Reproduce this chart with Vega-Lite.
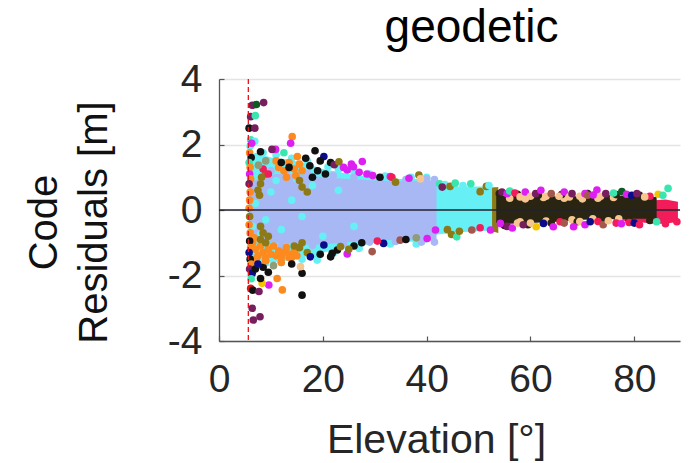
{
 "$schema": "https://vega.github.io/schema/vega-lite/v6.json",
 "width": 461,
 "height": 262,
 "autosize": "none",
 "padding": {"left": 219, "top": 79, "right": 9, "bottom": 122},
 "background": "white",
 "config": {
  "view": {"stroke": null},
  "font": "Liberation Sans",
  "axisX": {"labelFontSize": 39, "labelColor": "#262626", "labelFont": "Liberation Sans", "domainColor": "#555555", "domainWidth": 1.3, "tickColor": "#555555", "tickSize": -5, "tickWidth": 1.2, "labelPadding": 24, "labelFlush": false, "grid": false, "titleFontSize": 41, "titleFontWeight": "normal", "titleColor": "#262626", "titleFont": "Liberation Sans", "titleX": 217, "titleY": 111, "titleBaseline": "alphabetic", "titleAlign": "center", "titleAnchor": null},
  "axisY": {"labelFontSize": 39, "labelColor": "#262626", "labelFont": "Liberation Sans", "domainColor": "#555555", "domainWidth": 1.3, "tickColor": "#555555", "tickSize": -5, "tickWidth": 1.2, "labelPadding": 22, "grid": true, "gridColor": "#e4e4e4", "gridWidth": 1.3, "titleFontSize": 40, "titleFontWeight": "normal", "titleColor": "#111111", "titleFont": "Liberation Sans", "titleX": -195, "titleY": 143, "titleAngle": -90, "titleBaseline": "top", "titleAlign": "center", "titleLineHeight": 50, "titleAnchor": null}
 },
 "title": {"text": "geodetic", "fontSize": 46, "font": "Liberation Sans", "fontWeight": "normal", "color": "#000000", "anchor": "middle", "dx": 22, "offset": 8},
 "datasets": {
  "core": [
   {"g": "crimson", "e": 76, "r": -0.3, "r2": 0.15},
   {"g": "crimson", "e": 80, "r": -0.36, "r2": 0.25},
   {"g": "crimson", "e": 84, "r": -0.42, "r2": 0.3},
   {"g": "crimson", "e": 86, "r": -0.42, "r2": 0.32},
   {"g": "crimson", "e": 88.4, "r": -0.36, "r2": 0.25},
   {"g": "cyan", "e": 5.7, "r": -1.5, "r2": 1.6},
   {"g": "cyan", "e": 7, "r": -1.6, "r2": 1.75},
   {"g": "cyan", "e": 10, "r": -1.6, "r2": 1.6},
   {"g": "cyan", "e": 13, "r": -1.55, "r2": 1.55},
   {"g": "cyan", "e": 16, "r": -1.45, "r2": 1.45},
   {"g": "cyan", "e": 20, "r": -1.3, "r2": 1.25},
   {"g": "cyan", "e": 25, "r": -1.15, "r2": 1.1},
   {"g": "cyan", "e": 30, "r": -1.0, "r2": 1.0},
   {"g": "cyan", "e": 35, "r": -0.95, "r2": 0.95},
   {"g": "cyan", "e": 40, "r": -1.0, "r2": 0.95},
   {"g": "cyan", "e": 42, "r": -0.75, "r2": 0.8},
   {"g": "cyan", "e": 46, "r": -0.68, "r2": 0.72},
   {"g": "cyan", "e": 50, "r": -0.65, "r2": 0.72},
   {"g": "cyan", "e": 53.4, "r": -0.62, "r2": 0.7},
   {"g": "olive", "e": 52.6, "r": -0.65, "r2": 0.68},
   {"g": "olive", "e": 53.8, "r": -0.7, "r2": 0.7},
   {"g": "blue", "e": 5.8, "r": -0.8, "r2": 0.8},
   {"g": "blue", "e": 8, "r": -0.95, "r2": 1.0},
   {"g": "blue", "e": 11, "r": -1.0, "r2": 1.1},
   {"g": "blue", "e": 15, "r": -1.05, "r2": 1.1},
   {"g": "blue", "e": 20, "r": -1.05, "r2": 1.0},
   {"g": "blue", "e": 25, "r": -0.98, "r2": 0.95},
   {"g": "blue", "e": 30, "r": -0.93, "r2": 0.9},
   {"g": "blue", "e": 35, "r": -0.9, "r2": 0.88},
   {"g": "blue", "e": 41.9, "r": -0.93, "r2": 0.9},
   {"g": "black", "e": 53.4, "r": -0.4, "r2": 0.42},
   {"g": "black", "e": 56, "r": -0.42, "r2": 0.45},
   {"g": "black", "e": 60, "r": -0.4, "r2": 0.42},
   {"g": "black", "e": 65, "r": -0.36, "r2": 0.42},
   {"g": "black", "e": 70, "r": -0.3, "r2": 0.42},
   {"g": "black", "e": 75, "r": -0.28, "r2": 0.45},
   {"g": "black", "e": 80, "r": -0.27, "r2": 0.42},
   {"g": "black", "e": 84.3, "r": -0.27, "r2": 0.4}
  ],
  "pts": [
   {"e": 21, "r": 1.32, "s": "cyan"}, {"e": 23, "r": 1.24, "s": "cyan"}, {"e": 26, "r": 1.17, "s": "cyan"}, {"e": 29, "r": 1.1, "s": "cyan"}, {"e": 32, "r": 1.04, "s": "cyan"}, {"e": 37, "r": 1.0, "s": "cyan"}, {"e": 40, "r": 1.0, "s": "cyan"},
   {"e": 22, "r": -1.32, "s": "cyan"}, {"e": 27, "r": -1.17, "s": "cyan"}, {"e": 33, "r": -1.04, "s": "cyan"}, {"e": 38, "r": -1.04, "s": "cyan"},
   {"e": 8.5, "r": 1.75, "s": "cyan"}, {"e": 11, "r": 1.68, "s": "cyan"}, {"e": 14, "r": 1.58, "s": "cyan"}, {"e": 17, "r": 1.5, "s": "cyan"},
   {"e": 9, "r": -1.62, "s": "cyan"}, {"e": 12, "r": -1.6, "s": "cyan"}, {"e": 16, "r": -1.5, "s": "cyan"}, {"e": 19, "r": -1.4, "s": "cyan"},
   {"e": 22, "r": 1.05, "s": "blue"}, {"e": 26, "r": 1.0, "s": "blue"}, {"e": 31, "r": 0.95, "s": "blue"}, {"e": 36, "r": 0.93, "s": "blue"}, {"e": 40, "r": 0.95, "s": "blue"}, {"e": 41.5, "r": 0.93, "s": "blue"},
   {"e": 24, "r": -1.03, "s": "blue"}, {"e": 29, "r": -0.98, "s": "blue"}, {"e": 34, "r": -0.96, "s": "blue"}, {"e": 39, "r": -0.98, "s": "blue"}, {"e": 41.5, "r": -0.98, "s": "blue"},
   {"e": 10, "r": 1.2, "s": "blue"}, {"e": 13, "r": 1.2, "s": "blue"}, {"e": 17, "r": 1.12, "s": "blue"}, {"e": 12, "r": -1.1, "s": "blue"}, {"e": 18, "r": -1.08, "s": "blue"},
   {"e": 7, "r": 0.2, "s": "cyan"}, {"e": 9, "r": -0.3, "s": "cyan"}, {"e": 10, "r": 0.55, "s": "cyan"}, {"e": 12, "r": -0.6, "s": "cyan"}, {"e": 14, "r": 0.3, "s": "cyan"}, {"e": 8, "r": -0.75, "s": "cyan"}, {"e": 16, "r": -0.2, "s": "cyan"}, {"e": 11, "r": 0.9, "s": "cyan"}, {"e": 18, "r": 0.75, "s": "cyan"}, {"e": 20, "r": -0.8, "s": "cyan"}, {"e": 23, "r": 0.6, "s": "cyan"}, {"e": 26, "r": -0.5, "s": "cyan"}, {"e": 6.5, "r": -0.5, "s": "cyan"}, {"e": 15, "r": 0.95, "s": "cyan"},
   {"e": 6.5, "r": -1.0, "s": "orange"}, {"e": 7.0, "r": -1.2, "s": "orange"}, {"e": 7.5, "r": -1.4, "s": "orange"}, {"e": 8.0, "r": -1.1, "s": "orange"}, {"e": 8.5, "r": -1.3, "s": "orange"}, {"e": 9.0, "r": -1.45, "s": "orange"}, {"e": 9.5, "r": -1.2, "s": "orange"}, {"e": 10.0, "r": -1.35, "s": "orange"}, {"e": 10.5, "r": -1.1, "s": "orange"}, {"e": 11.0, "r": -1.4, "s": "orange"}, {"e": 11.5, "r": -1.25, "s": "orange"}, {"e": 12.0, "r": -1.45, "s": "orange"}, {"e": 12.5, "r": -1.3, "s": "orange"}, {"e": 13.0, "r": -1.15, "s": "orange"}, {"e": 13.5, "r": -1.35, "s": "orange"}, {"e": 14.0, "r": -1.45, "s": "orange"}, {"e": 14.5, "r": -1.25, "s": "orange"}, {"e": 15.0, "r": -1.4, "s": "orange"}, {"e": 6.8, "r": -0.85, "s": "orange"}, {"e": 7.2, "r": -1.5, "s": "orange"},
   {"e": 11.5, "r": 1.3, "s": "orange"}, {"e": 12.5, "r": 1.2, "s": "orange"}, {"e": 13.5, "r": 1.45, "s": "orange"}, {"e": 14.5, "r": 1.25, "s": "orange"}, {"e": 15.5, "r": 1.4, "s": "orange"}, {"e": 16.0, "r": 1.2, "s": "orange"}, {"e": 13.0, "r": 1.0, "s": "orange"}, {"e": 14.8, "r": 1.05, "s": "orange"}, {"e": 11, "r": 1.5, "s": "orange"},
   {"e": 7.5, "r": 0.6, "s": "olive"}, {"e": 8, "r": 0.8, "s": "olive"}, {"e": 8.2, "r": 1.0, "s": "olive"}, {"e": 7.8, "r": 0.45, "s": "olive"}, {"e": 9.0, "r": 1.1, "s": "olive"}, {"e": 16, "r": 0.7, "s": "olive"}, {"e": 17, "r": 0.55, "s": "olive"}, {"e": 15.5, "r": 0.9, "s": "olive"},
   {"e": 8.0, "r": -0.5, "s": "olive"}, {"e": 8.5, "r": -0.7, "s": "olive"}, {"e": 8.0, "r": -0.9, "s": "olive"}, {"e": 9.0, "r": -1.0, "s": "olive"}, {"e": 9.5, "r": -0.8, "s": "olive"}, {"e": 14.5, "r": -1.1, "s": "olive"}, {"e": 15.5, "r": -1.15, "s": "olive"}, {"e": 16.0, "r": -1.0, "s": "olive"}, {"e": 17, "r": -1.3, "s": "olive"},
   {"e": 56, "r": 0.36, "s": "peach"}, {"e": 59, "r": 0.34, "s": "peach"}, {"e": 62.5, "r": 0.38, "s": "peach"}, {"e": 66.5, "r": 0.36, "s": "peach"}, {"e": 70, "r": 0.34, "s": "peach"}, {"e": 73, "r": 0.36, "s": "peach"}, {"e": 76, "r": 0.38, "s": "peach"}, {"e": 58, "r": -0.36, "s": "peach"}, {"e": 63, "r": -0.34, "s": "peach"}, {"e": 68, "r": -0.3, "s": "peach"}, {"e": 72, "r": -0.27, "s": "peach"}, {"e": 77, "r": -0.27, "s": "peach"},
   {"e": 54, "r": 0.5, "s": "dark"}, {"e": 57.5, "r": 0.48, "s": "dark"}, {"e": 61.5, "r": 0.45, "s": "dark"}, {"e": 66, "r": 0.47, "s": "dark"}, {"e": 71, "r": 0.5, "s": "dark"}, {"e": 76.5, "r": 0.47, "s": "dark"}, {"e": 81, "r": 0.45, "s": "dark"},
   {"e": 55, "r": -0.47, "s": "dark"}, {"e": 59.5, "r": -0.45, "s": "dark"}, {"e": 64, "r": -0.4, "s": "dark"}, {"e": 69, "r": -0.36, "s": "dark"}, {"e": 74, "r": -0.33, "s": "dark"}, {"e": 79, "r": -0.32, "s": "dark"}, {"e": 83, "r": -0.32, "s": "dark"},
   {"e": 5.8, "r": 2.5, "s": "black"}, {"e": 6.1, "r": 2.14, "s": "teal"}, {"e": 6.0, "r": 1.95, "s": "cyan"}, {"e": 5.9, "r": 1.75, "s": "orange"}, {"e": 6.2, "r": 1.6, "s": "black"}, {"e": 5.8, "r": 1.45, "s": "teal"}, {"e": 6.0, "r": 1.3, "s": "orange"}, {"e": 5.9, "r": 1.1, "s": "magenta"}, {"e": 6.1, "r": 0.95, "s": "orange"}, {"e": 5.8, "r": 0.8, "s": "purple"}, {"e": 6.0, "r": 0.55, "s": "orange"}, {"e": 5.9, "r": 0.3, "s": "orange"}, {"e": 5.8, "r": 0.05, "s": "orange"}, {"e": 5.9, "r": -0.2, "s": "olive"}, {"e": 5.8, "r": -0.45, "s": "orange"}, {"e": 6.0, "r": -0.7, "s": "orange"}, {"e": 5.9, "r": -0.95, "s": "black"}, {"e": 6.1, "r": -1.15, "s": "orange"}, {"e": 5.8, "r": -1.3, "s": "navy"}, {"e": 6.0, "r": -1.5, "s": "black"}, {"e": 6.2, "r": -1.65, "s": "orange"}, {"e": 5.9, "r": -1.8, "s": "purple"}, {"e": 6.4, "r": -1.93, "s": "navy"}, {"e": 6.2, "r": -2.1, "s": "teal"}, {"e": 6.1, "r": -2.39, "s": "red"}, {"e": 6.5, "r": -2.45, "s": "black"},
   {"e": 6.4, "r": 3.2, "s": "purple"}, {"e": 7.2, "r": 3.22, "s": "green"}, {"e": 8.6, "r": 3.28, "s": "purple"}, {"e": 6.1, "r": 2.85, "s": "purple"}, {"e": 7.0, "r": 2.88, "s": "teal"}, {"e": 6.9, "r": 2.5, "s": "purple"}, {"e": 6.9, "r": 2.1, "s": "cyan"}, {"e": 6.3, "r": 2.04, "s": "magenta"},
   {"e": 14.1, "r": 2.24, "s": "orange"}, {"e": 13.8, "r": 2.04, "s": "magenta"}, {"e": 18.5, "r": 1.81, "s": "black"}, {"e": 10.9, "r": 1.85, "s": "magenta"}, {"e": 10.2, "r": 1.85, "s": "purple"}, {"e": 8.0, "r": 1.78, "s": "black"}, {"e": 12.5, "r": 1.75, "s": "teal"}, {"e": 16.7, "r": 1.58, "s": "black"}, {"e": 15.1, "r": 1.63, "s": "orange"}, {"e": 20.2, "r": 1.63, "s": "navy"}, {"e": 19.5, "r": 1.5, "s": "black"}, {"e": 21.5, "r": 1.45, "s": "black"}, {"e": 22.2, "r": 1.38, "s": "purple"}, {"e": 23.1, "r": 1.47, "s": "olive"},
   {"e": 24.0, "r": 1.3, "s": "magenta"}, {"e": 25.5, "r": 1.4, "s": "magenta"}, {"e": 27.0, "r": 1.15, "s": "magenta"}, {"e": 28.5, "r": 1.1, "s": "magenta"}, {"e": 29.6, "r": 1.05, "s": "magenta"}, {"e": 24.7, "r": 1.22, "s": "magenta"}, {"e": 25.9, "r": 1.32, "s": "magenta"}, {"e": 27.6, "r": 1.48, "s": "magenta"},
   {"e": 33.0, "r": 1.02, "s": "magenta"}, {"e": 33.3, "r": 1.0, "s": "crimson"}, {"e": 36.6, "r": 0.97, "s": "magenta"}, {"e": 38.5, "r": 1.07, "s": "olive"}, {"e": 38.8, "r": 0.95, "s": "peach"}, {"e": 34.0, "r": 0.85, "s": "olive"}, {"e": 31.0, "r": 1.0, "s": "black"},
   {"e": 12.0, "r": 1.45, "s": "black"}, {"e": 13.5, "r": 1.3, "s": "black"}, {"e": 17.5, "r": 1.35, "s": "black"}, {"e": 19.0, "r": 1.2, "s": "black"}, {"e": 20.5, "r": 1.1, "s": "black"}, {"e": 18.0, "r": 1.0, "s": "black"}, {"e": 8.5, "r": 1.25, "s": "crimson"}, {"e": 9.5, "r": 1.1, "s": "crimson"}, {"e": 9.0, "r": 1.5, "s": "sage"}, {"e": 7.6, "r": 1.37, "s": "sage"},
   {"e": 20.2, "r": -1.07, "s": "navy"}, {"e": 22.8, "r": -1.22, "s": "black"}, {"e": 21.8, "r": -1.32, "s": "black"}, {"e": 17.6, "r": -1.43, "s": "navy"}, {"e": 18.9, "r": -1.53, "s": "cyan"}, {"e": 16.0, "r": -1.93, "s": "black"}, {"e": 16.0, "r": -2.6, "s": "black"}, {"e": 12.2, "r": -2.44, "s": "orange"}, {"e": 11.2, "r": -2.09, "s": "orange"}, {"e": 15.7, "r": -1.73, "s": "peach"}, {"e": 9.6, "r": -2.29, "s": "magenta"}, {"e": 7.7, "r": -2.49, "s": "purple"}, {"e": 8.3, "r": -2.24, "s": "gold"}, {"e": 8.0, "r": -2.09, "s": "black"}, {"e": 6.4, "r": -3.0, "s": "purple"}, {"e": 7.9, "r": -3.26, "s": "purple"}, {"e": 6.6, "r": -3.36, "s": "purple"},
   {"e": 7.0, "r": -1.8, "s": "black"}, {"e": 8.5, "r": -1.75, "s": "black"}, {"e": 9.5, "r": -1.9, "s": "black"}, {"e": 10.5, "r": -1.7, "s": "sage"}, {"e": 7.5, "r": -1.65, "s": "navy"}, {"e": 9.0, "r": -1.55, "s": "orange"}, {"e": 12.0, "r": -1.6, "s": "orange"}, {"e": 13.5, "r": -1.45, "s": "orange"}, {"e": 14.0, "r": -1.65, "s": "black"}, {"e": 19.5, "r": -1.35, "s": "black"}, {"e": 21.5, "r": -1.43, "s": "black"},
   {"e": 24.7, "r": -1.34, "s": "magenta"}, {"e": 23.4, "r": -1.12, "s": "olive"}, {"e": 29.5, "r": -1.27, "s": "mauve"}, {"e": 31.7, "r": -1.02, "s": "navy"}, {"e": 34.9, "r": -0.92, "s": "mauve"}, {"e": 40.1, "r": -0.87, "s": "magenta"}, {"e": 41.7, "r": -0.61, "s": "magenta"}, {"e": 26, "r": -1.1, "s": "black"}, {"e": 27.5, "r": -1.0, "s": "black"}, {"e": 25, "r": -1.2, "s": "olive"}, {"e": 30.5, "r": -0.95, "s": "crimson"}, {"e": 36, "r": -0.9, "s": "black"}, {"e": 38, "r": -0.85, "s": "sage"},
   {"e": 42.5, "r": 0.8, "s": "teal"}, {"e": 43.5, "r": 0.78, "s": "cyan"}, {"e": 44.5, "r": 0.72, "s": "olive"}, {"e": 45.5, "r": 0.82, "s": "teal"}, {"e": 47, "r": 0.75, "s": "cyan"}, {"e": 48.5, "r": 0.8, "s": "teal"}, {"e": 50.3, "r": 0.56, "s": "olive"}, {"e": 51.5, "r": 0.72, "s": "olive"}, {"e": 52, "r": 0.75, "s": "cyan"}, {"e": 43, "r": 0.7, "s": "purple"},
   {"e": 44, "r": -0.6, "s": "olive"}, {"e": 44.8, "r": -0.75, "s": "olive"}, {"e": 45.8, "r": -0.82, "s": "teal"}, {"e": 46.3, "r": -0.65, "s": "olive"}, {"e": 48.7, "r": -0.61, "s": "mauve"}, {"e": 50.3, "r": -0.54, "s": "crimson"}, {"e": 52.3, "r": -0.61, "s": "magenta"},
   {"e": 54.5, "r": 0.55, "s": "purple"}, {"e": 55.5, "r": 0.5, "s": "magenta"}, {"e": 56, "r": 0.58, "s": "teal"}, {"e": 57, "r": 0.52, "s": "crimson"}, {"e": 58, "r": 0.4, "s": "peach"}, {"e": 59, "r": 0.55, "s": "magenta"}, {"e": 60, "r": 0.42, "s": "peach"}, {"e": 61, "r": 0.5, "s": "purple"}, {"e": 62, "r": 0.6, "s": "magenta"}, {"e": 63, "r": 0.42, "s": "peach"}, {"e": 64, "r": 0.5, "s": "mauve"}, {"e": 65.5, "r": 0.42, "s": "peach"}, {"e": 66.5, "r": 0.55, "s": "magenta"}, {"e": 67.5, "r": 0.4, "s": "peach"}, {"e": 68, "r": 0.5, "s": "purple"}, {"e": 69.5, "r": 0.42, "s": "peach"}, {"e": 70.5, "r": 0.5, "s": "magenta"}, {"e": 71, "r": 0.45, "s": "mauve"}, {"e": 72.1, "r": 0.46, "s": "magenta"}, {"e": 72.8, "r": 0.61, "s": "magenta"}, {"e": 73.5, "r": 0.42, "s": "peach"}, {"e": 74.5, "r": 0.5, "s": "purple"}, {"e": 77.6, "r": 0.56, "s": "green"}, {"e": 76, "r": 0.52, "s": "teal"}, {"e": 78.5, "r": 0.48, "s": "magenta"}, {"e": 79.5, "r": 0.45, "s": "navy"}, {"e": 80.5, "r": 0.5, "s": "purple"}, {"e": 84.6, "r": 0.48, "s": "gold"}, {"e": 86.5, "r": 0.66, "s": "teal"}, {"e": 85.5, "r": 0.45, "s": "teal"}, {"e": 83, "r": 0.42, "s": "crimson"}, {"e": 82, "r": 0.4, "s": "peach"},
   {"e": 54.2, "r": -0.41, "s": "magenta"}, {"e": 55.5, "r": -0.5, "s": "purple"}, {"e": 56.5, "r": -0.55, "s": "magenta"}, {"e": 57.5, "r": -0.4, "s": "peach"}, {"e": 58.6, "r": -0.45, "s": "purple"}, {"e": 61.1, "r": -0.51, "s": "gold"}, {"e": 62.5, "r": -0.41, "s": "navy"}, {"e": 64.4, "r": -0.51, "s": "magenta"}, {"e": 60, "r": -0.4, "s": "peach"}, {"e": 65.7, "r": -0.36, "s": "crimson"}, {"e": 66.5, "r": -0.4, "s": "mauve"}, {"e": 68.3, "r": -0.51, "s": "magenta"}, {"e": 69.5, "r": -0.35, "s": "peach"}, {"e": 70.5, "r": -0.45, "s": "magenta"}, {"e": 71.5, "r": -0.36, "s": "navy"}, {"e": 73, "r": -0.35, "s": "crimson"}, {"e": 74, "r": -0.45, "s": "mauve"}, {"e": 75, "r": -0.33, "s": "peach"}, {"e": 76.5, "r": -0.4, "s": "crimson"}, {"e": 77.5, "r": -0.42, "s": "magenta"}, {"e": 79, "r": -0.38, "s": "crimson"}, {"e": 80, "r": -0.4, "s": "navy"}, {"e": 81, "r": -0.45, "s": "crimson"}, {"e": 84.3, "r": -0.36, "s": "teal"}, {"e": 86, "r": -0.42, "s": "crimson"}, {"e": 88.2, "r": -0.36, "s": "crimson"}
  ],
  "cut": [{"e": 5.65}],
  "zero": [{"r": 0}]
 },
 "layer": [
  {"data": {"name": "core"}, "transform": [{"filter": "datum.g === 'crimson'"}],
   "mark": {"type": "area", "color": "#f31c5a", "opacity": 1},
   "encoding": {
    "x": {"field": "e", "type": "quantitative", "scale": {"domain": [0, 88.8], "nice": false, "zero": false}, "axis": {"values": [0, 20, 40, 60, 80], "title": "Elevation [°]"}},
    "y": {"field": "r", "type": "quantitative", "stack": null, "scale": {"domain": [-4, 4], "nice": false}, "axis": {"values": [-4, -2, 0, 2, 4], "labelExpr": "datum.value < 0 ? '-' + abs(datum.value) : '' + datum.value", "title": ["Code", "Residuals [m]"]}},
    "y2": {"field": "r2"}}},
  {"data": {"name": "core"}, "transform": [{"filter": "datum.g === 'cyan'"}],
   "mark": {"type": "area", "color": "#66eff5", "opacity": 1},
   "encoding": {"x": {"field": "e", "type": "quantitative"}, "y": {"field": "r", "type": "quantitative", "stack": null}, "y2": {"field": "r2"}}},
  {"data": {"name": "core"}, "transform": [{"filter": "datum.g === 'olive'"}],
   "mark": {"type": "area", "color": "#8d7a17", "opacity": 1},
   "encoding": {"x": {"field": "e", "type": "quantitative"}, "y": {"field": "r", "type": "quantitative", "stack": null}, "y2": {"field": "r2"}}},
  {"data": {"name": "core"}, "transform": [{"filter": "datum.g === 'blue'"}],
   "mark": {"type": "area", "color": "#a7b8f5", "opacity": 1},
   "encoding": {"x": {"field": "e", "type": "quantitative"}, "y": {"field": "r", "type": "quantitative", "stack": null}, "y2": {"field": "r2"}}},
  {"data": {"name": "core"}, "transform": [{"filter": "datum.g === 'black'"}],
   "mark": {"type": "area", "color": "#2a2512", "opacity": 1},
   "encoding": {"x": {"field": "e", "type": "quantitative"}, "y": {"field": "r", "type": "quantitative", "stack": null}, "y2": {"field": "r2"}}},
  {"data": {"name": "pts"},
   "mark": {"type": "circle", "size": 58, "opacity": 1},
   "encoding": {
    "x": {"field": "e", "type": "quantitative"},
    "y": {"field": "r", "type": "quantitative"},
    "color": {"field": "s", "type": "nominal", "legend": null,
     "scale": {"domain": ["cyan", "blue", "orange", "olive", "magenta", "black", "dark", "purple", "crimson", "navy", "teal", "peach", "mauve", "gold", "green", "sage", "red"],
               "range": ["#66eff5", "#a7b8f5", "#fd8a1e", "#8d7a17", "#dd1ff2", "#111111", "#2a2512", "#771e5e", "#f31c5a", "#0c0c8a", "#3ae6b0", "#f7c690", "#a4574c", "#f5c400", "#0b5b22", "#8f9c7a", "#ee1111"]}}}},
  {"data": {"name": "cut"},
   "mark": {"type": "rule", "color": "#e8141c", "strokeDash": [5, 3], "strokeWidth": 1.3},
   "encoding": {"x": {"field": "e", "type": "quantitative"}}},
  {"data": {"name": "zero"},
   "mark": {"type": "rule", "color": "#22222e", "strokeWidth": 1.5},
   "encoding": {"y": {"field": "r", "type": "quantitative"}}}
 ]
}
